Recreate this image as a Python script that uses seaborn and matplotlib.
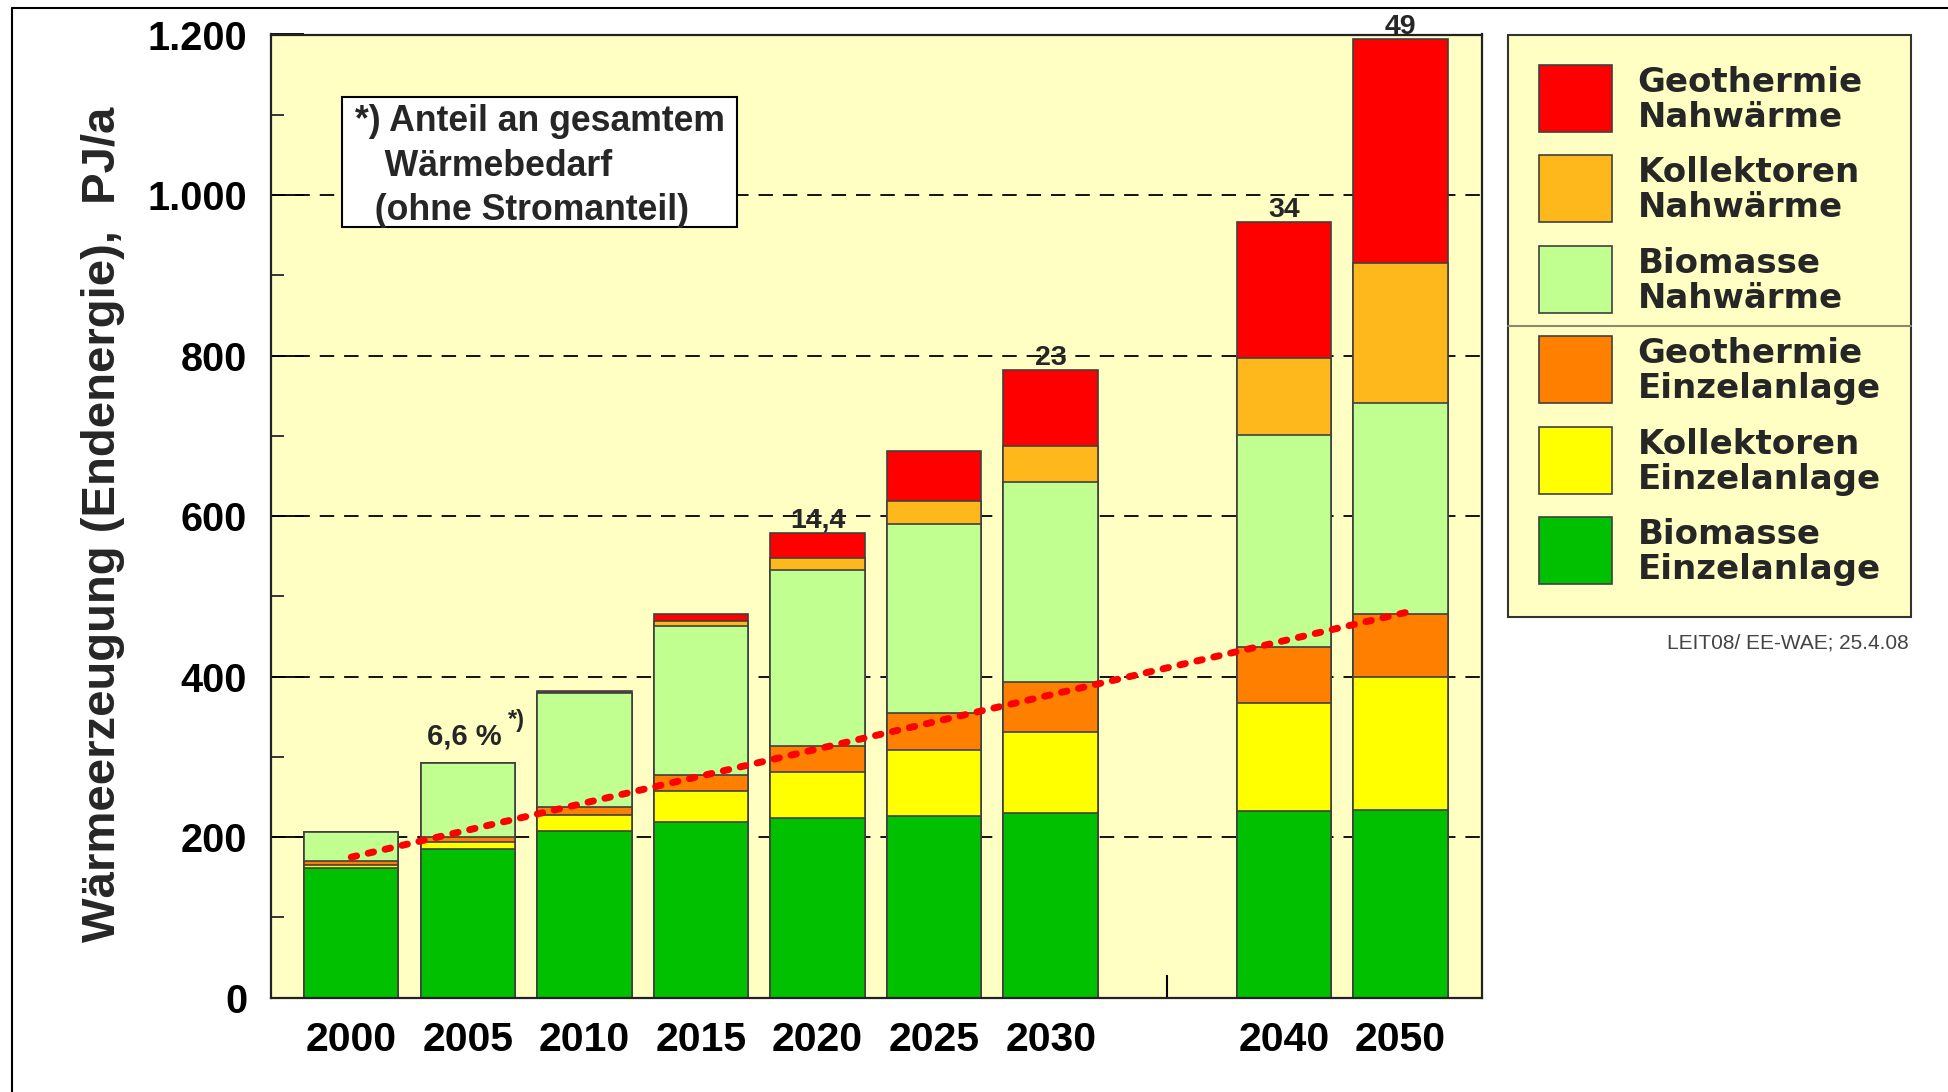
import numpy as np
import pandas as pd
import matplotlib
matplotlib.use("Agg")
import matplotlib.pyplot as plt
import seaborn as sns
from matplotlib.ticker import FuncFormatter, MultipleLocator
from matplotlib.lines import Line2D
from matplotlib.patches import Patch, Rectangle
from matplotlib.font_manager import FontProperties
from matplotlib.legend_handler import HandlerPatch

# ---------------- data ----------------
categories = ["2000", "2005", "2010", "2015", "2020", "2025", "2030", "2035", "2040", "2050"]
tick_labels = ["2000", "2005", "2010", "2015", "2020", "2025", "2030", "", "2040", "2050"]

nan = np.nan
biomasse_einzel = [162, 185, 208, 219, 224, 226, 230, nan, 232, 234]
kollektoren_einzel = [3, 8.5, 20, 39, 57, 82, 101, nan, 135, 165]
geothermie_einzel = [5.5, 6.5, 10, 19, 33, 46, 62, nan, 70, 79]
biomasse_nah = [35.5, 92, 142, 186, 219, 236, 249, nan, 264, 263]
kollektoren_nah = [0, 0, 0, 6, 15, 29, 45, nan, 96, 174]
geothermie_nah = [0, 0, 2, 9.5, 31, 62, 95, nan, 170, 280]

series_names = ["Biomasse\nEinzelanlage", "Kollektoren\nEinzelanlage", "Geothermie\nEinzelanlage",
                "Biomasse\nNahwärme", "Kollektoren\nNahwärme", "Geothermie\nNahwärme"]
series_colors = ["#00C000", "#FFFF00", "#FF8000", "#C0FF90", "#FFB81C", "#FF0000"]

share_years = ["2005", "2020", "2030", "2040", "2050"]
share_labels = ["6,6 %", "14,4", "23", "34", "49"]

trend_years = ["2000", "2050"]
trend_values = [175, 481]

note_text = "*) Anteil an gesamtem\n   Wärmebedarf\n  (ohne Stromanteil)"
ylabel_text = "Wärmeerzeugung (Endenergie),  PJ/a"
source_text = "LEIT08/ EE-WAE; 25.4.08"

# ---------------- style ----------------
BG = "#FFFFC4"
EDGE = "#404040"
sns.set_theme(style="white")
plt.rcParams["font.family"] = ["Liberation Sans", "DejaVu Sans"]
plt.rcParams["font.weight"] = "bold"

W, H = 1948, 1092
fig = plt.figure(figsize=(W / 100, H / 100), dpi=100)
fig.patch.set_facecolor("white")
ax = fig.add_axes([270.8 / W, 1 - 997.6 / H, (1482 - 270.8) / W, (997.6 - 34.5) / H])
ax.set_facecolor(BG)

values = np.array([biomasse_einzel, kollektoren_einzel, geothermie_einzel,
                   biomasse_nah, kollektoren_nah, geothermie_nah], dtype=float)
cum = np.cumsum(values, axis=0)

for i in reversed(range(len(series_names))):
    df = pd.DataFrame({"Jahr": categories, "Wert": cum[i]})
    sns.barplot(data=df, x="Jahr", y="Wert", order=categories, color=series_colors[i],
                saturation=1, width=0.81, edgecolor=EDGE, linewidth=1.2,
                errorbar=None, ax=ax, zorder=2)

ax.set_xlim(-0.69, 9.70)
ax.set_ylim(0, 1200)

# grid lines behind the bars
for v in np.arange(200, 1200, 200):
    ax.axhline(v, color="black", lw=1.3, ls=(0, (8, 5.5)), zorder=0.5)

# trend line
tx = [categories.index(trend_years[0]), categories.index(trend_years[1]) + 0.08]
sns.lineplot(x=tx, y=trend_values, ax=ax, color="#FF0000", lw=5,
             linestyle=(0, (0.8, 1.7)), dash_capstyle="round", zorder=5)

# axes styling
ax.yaxis.set_major_locator(MultipleLocator(200))
ax.yaxis.set_minor_locator(MultipleLocator(100))
ax.yaxis.set_major_formatter(FuncFormatter(lambda v, _: f"{int(v):,}".replace(",", ".")))
ax.set_xticks(range(len(categories)))
ax.set_xticklabels(tick_labels)
ax.tick_params(axis="y", which="major", direction="in", length=24, width=1.3,
               left=True, right=False, labelsize=28.5, pad=17, colors="black")
ax.tick_params(axis="y", which="minor", direction="in", length=9, width=1.3, left=True, right=False)
ax.tick_params(axis="x", which="major", direction="in", length=16.5, width=1.5,
               bottom=True, top=False, labelsize=29.5, pad=17, colors="black")
for lab in ax.get_xticklabels() + ax.get_yticklabels():
    lab.set_fontweight("bold")
for sp in ax.spines.values():
    sp.set_visible(True)
    sp.set_color("#222222")
    sp.set_linewidth(1.6)
    sp.set_zorder(6)

ax.set_xlabel("")
ax.set_ylabel(ylabel_text, fontsize=34, fontweight="bold")
ax.yaxis.label.set_va("center")
ax.yaxis.set_label_coords((103 - 270.8) / 1211.2, (997.6 - 524) / 963.1)

# share labels on top of bars
totals = np.nansum(values, axis=0)
for yr, lab in zip(share_years, share_labels):
    i = categories.index(yr)
    if yr == "2005":
        ax.annotate(lab, xy=(i, totals[i]), xytext=(-3, 19), textcoords="offset pixels",
                    ha="center", va="baseline", fontsize=21, fontweight="bold", zorder=7)
        ax.annotate("*)", xy=(i, totals[i]), xytext=(40, 36), textcoords="offset pixels",
                    ha="left", va="baseline", fontsize=17, fontweight="bold", zorder=7)
    else:
        ax.annotate(lab, xy=(i, totals[i]), xytext=(0, 5), textcoords="offset pixels",
                    ha="center", va="baseline", fontsize=20.5, fontweight="bold", zorder=7)

# note box
ax.add_patch(Rectangle((0.05845, 0.7998), 0.3847 - 0.05845, 0.9351 - 0.7998,
                       transform=ax.transAxes, fc="white", ec="black", lw=1.5, zorder=8))
ax.text((355 - 270.8) / 1211.2, (997.6 - 104) / 963.1, note_text, transform=ax.transAxes,
        ha="left", va="top", fontsize=25.7, fontweight="bold", linespacing=1.36, zorder=9)


# legend with tall colour boxes aligned to the two-line labels
class TallPatch(HandlerPatch):
    def create_artists(self, legend, orig_handle, xdescent, ydescent, width, height,
                       fontsize, trans):
        p = Rectangle((-xdescent, -0.56 * fontsize), width, 1.97 * fontsize,
                      facecolor=orig_handle.get_facecolor(), edgecolor=orig_handle.get_edgecolor(),
                      linewidth=orig_handle.get_linewidth(), transform=trans)
        return [p]


handles = [Patch(facecolor=series_colors[i], edgecolor=EDGE, linewidth=1.2)
           for i in reversed(range(len(series_names)))]
labels = [series_names[i] for i in reversed(range(len(series_names)))]
leg_font = FontProperties(family="DejaVu Sans", weight="bold", size=24.5)
leg = fig.legend(handles, labels, loc="upper left", bbox_to_anchor=(1508 / W, 1 - 35 / H),
                 bbox_transform=fig.transFigure, prop=leg_font, handlelength=2.15,
                 handleheight=1.0, handletextpad=0.76, labelspacing=0.66, borderpad=0.9,
                 borderaxespad=0, frameon=True, fancybox=False, facecolor=BG,
                 edgecolor="#333333", framealpha=1, handler_map={Patch: TallPatch()})
leg.get_frame().set_linewidth(1.5)
for t in leg.get_texts():
    t.set_linespacing(1.08)

# separator inside legend between the Nahwärme and Einzelanlage groups
fig.canvas.draw()
tb = [t.get_window_extent() for t in leg.get_texts()]
fb = leg.get_frame().get_window_extent()
y_sep = (tb[2].y0 + tb[3].y1) / 2
inv = fig.transFigure.inverted()
(x0, ys), (x1, _) = inv.transform([(fb.x0, y_sep), (fb.x1, y_sep)])
fig.add_artist(Line2D([x0, x1], [ys, ys], transform=fig.transFigure, color="#8a8a70",
                      lw=1.5, zorder=10))

fig.text(1909 / W, 1 - 643 / H, source_text, ha="right", va="center", fontsize=15,
         fontweight="normal", color="#444444")

# figure frame (left and top)
fig.add_artist(Line2D([12 / W, 12 / W], [0, 1 - 8 / H], transform=fig.transFigure, color="black", lw=1.5))
fig.add_artist(Line2D([12 / W, 1], [1 - 8 / H] * 2, transform=fig.transFigure, color="black", lw=1.5))

fig.savefig("out.png", dpi=100)
